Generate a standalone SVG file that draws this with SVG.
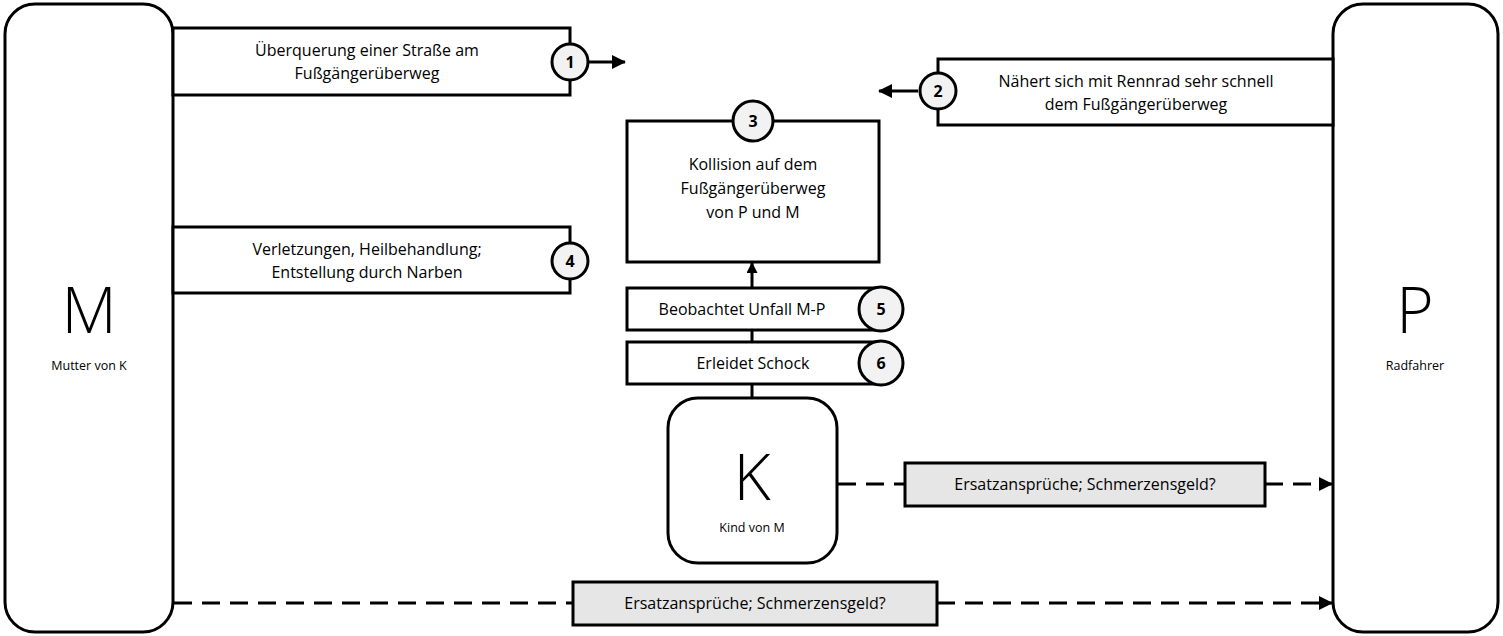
<svg xmlns="http://www.w3.org/2000/svg" width="1503" height="636" viewBox="0 0 1503 636">
<style>
.node{fill:#fff;stroke:#000;stroke-width:3}
.box{fill:#fff;stroke:#000;stroke-width:3}
.lbl{fill:#e6e6e6;stroke:#000;stroke-width:3}
.num{fill:#f2f2f2;stroke:#000;stroke-width:3}
.t{font-family:"Open Sans","Noto Sans",sans-serif;font-size:16px;fill:#000;text-anchor:middle}
.n{font-family:"Open Sans","Noto Sans",sans-serif;font-size:16px;font-weight:bold;fill:#000;text-anchor:middle}
.big{font-family:"Open Sans","Noto Sans",sans-serif;font-size:64px;font-weight:300;fill:#000;text-anchor:middle}
.sm{font-family:"Open Sans","Noto Sans",sans-serif;font-size:12.5px;fill:#000;text-anchor:middle}
.line{stroke:#000;stroke-width:3;fill:none}
.dash{stroke:#000;stroke-width:3;fill:none;stroke-dasharray:18 10}
</style>
<defs>
<marker id="ah" markerWidth="11" markerHeight="11" refX="10" refY="5.5" orient="auto" markerUnits="userSpaceOnUse">
<path d="M0,0 L11,5.5 L0,11 Z" fill="#000"/>
</marker>
<marker id="ah2" markerWidth="14" markerHeight="14" refX="13" refY="7" orient="auto" markerUnits="userSpaceOnUse">
<path d="M0,0 L14,7 L0,14 Z" fill="#000"/>
</marker>
</defs>

<g id="connectors">
<line class="line" x1="588" y1="62" x2="625" y2="62" marker-end="url(#ah2)"/>
<line class="line" x1="918" y1="91" x2="879" y2="91" marker-end="url(#ah2)"/>
<line class="line" x1="752" y1="287" x2="752" y2="263" marker-end="url(#ah)"/>
<line class="line" x1="752" y1="329" x2="752" y2="342"/>
<line class="line" x1="752" y1="384" x2="752" y2="398"/>
<line class="dash" x1="838" y1="484" x2="905" y2="484"/>
<line class="dash" x1="1265" y1="484" x2="1332" y2="484" marker-end="url(#ah2)"/>
<line class="dash" x1="174" y1="603" x2="573" y2="603"/>
<line class="dash" x1="937" y1="603" x2="1332" y2="603" marker-end="url(#ah2)"/>
</g>

<g id="node-M">
<rect class="node" x="5" y="4" width="168" height="628" rx="30"/>
<text class="big" x="89" y="333">M</text>
<text class="sm" x="89" y="370">Mutter von K</text>
</g>

<g id="node-P">
<rect class="node" x="1333" y="4" width="165" height="628" rx="30"/>
<text class="big" x="1415" y="333">P</text>
<text class="sm" x="1415" y="370">Radfahrer</text>
</g>

<g id="step-1">
<rect class="box" x="173" y="28" width="397" height="67"/>
<text class="t" x="367" y="56">Überquerung einer Straße am</text>
<text class="t" x="367" y="79">Fußgängerüberweg</text>
<circle class="num" cx="570" cy="62" r="18"/>
<text class="n" x="570" y="68">1</text>
</g>

<g id="step-2">
<rect class="box" x="938" y="59" width="395" height="66"/>
<text class="t" x="1136" y="87">Nähert sich mit Rennrad sehr schnell</text>
<text class="t" x="1136" y="110">dem Fußgängerüberweg</text>
<circle class="num" cx="938" cy="91" r="18"/>
<text class="n" x="938" y="97">2</text>
</g>

<g id="step-3">
<rect class="box" x="627" y="121" width="252" height="141"/>
<text class="t" x="753" y="170">Kollision auf dem</text>
<text class="t" x="753" y="194">Fußgängerüberweg</text>
<text class="t" x="753" y="218">von P und M</text>
<circle class="num" cx="753" cy="121" r="20"/>
<text class="n" x="753" y="127">3</text>
</g>

<g id="step-4">
<rect class="box" x="173" y="227" width="397" height="66"/>
<text class="t" x="367" y="255">Verletzungen, Heilbehandlung;</text>
<text class="t" x="367" y="278">Entstellung durch Narben</text>
<circle class="num" cx="570" cy="261" r="18"/>
<text class="n" x="570" y="267">4</text>
</g>

<g id="step-5">
<rect class="box" x="627" y="288" width="254" height="42"/>
<text class="t" x="742" y="315">Beobachtet Unfall M-P</text>
<circle class="num" cx="881" cy="309" r="22"/>
<text class="n" x="881" y="315">5</text>
</g>

<g id="step-6">
<rect class="box" x="627" y="342" width="254" height="42"/>
<text class="t" x="753" y="369">Erleidet Schock</text>
<circle class="num" cx="881" cy="363" r="22"/>
<text class="n" x="881" y="369">6</text>
</g>

<g id="node-K">
<rect class="node" x="668" y="398" width="169" height="165" rx="30"/>
<text class="big" x="752" y="500">K</text>
<text class="sm" x="752" y="532">Kind von M</text>
</g>

<g id="label-K-P">
<rect class="lbl" x="905" y="463" width="360" height="43"/>
<text class="t" x="1085" y="490">Ersatzansprüche; Schmerzensgeld?</text>
</g>

<g id="label-M-P">
<rect class="lbl" x="573" y="582" width="364" height="43"/>
<text class="t" x="755" y="609">Ersatzansprüche; Schmerzensgeld?</text>
</g>
</svg>
